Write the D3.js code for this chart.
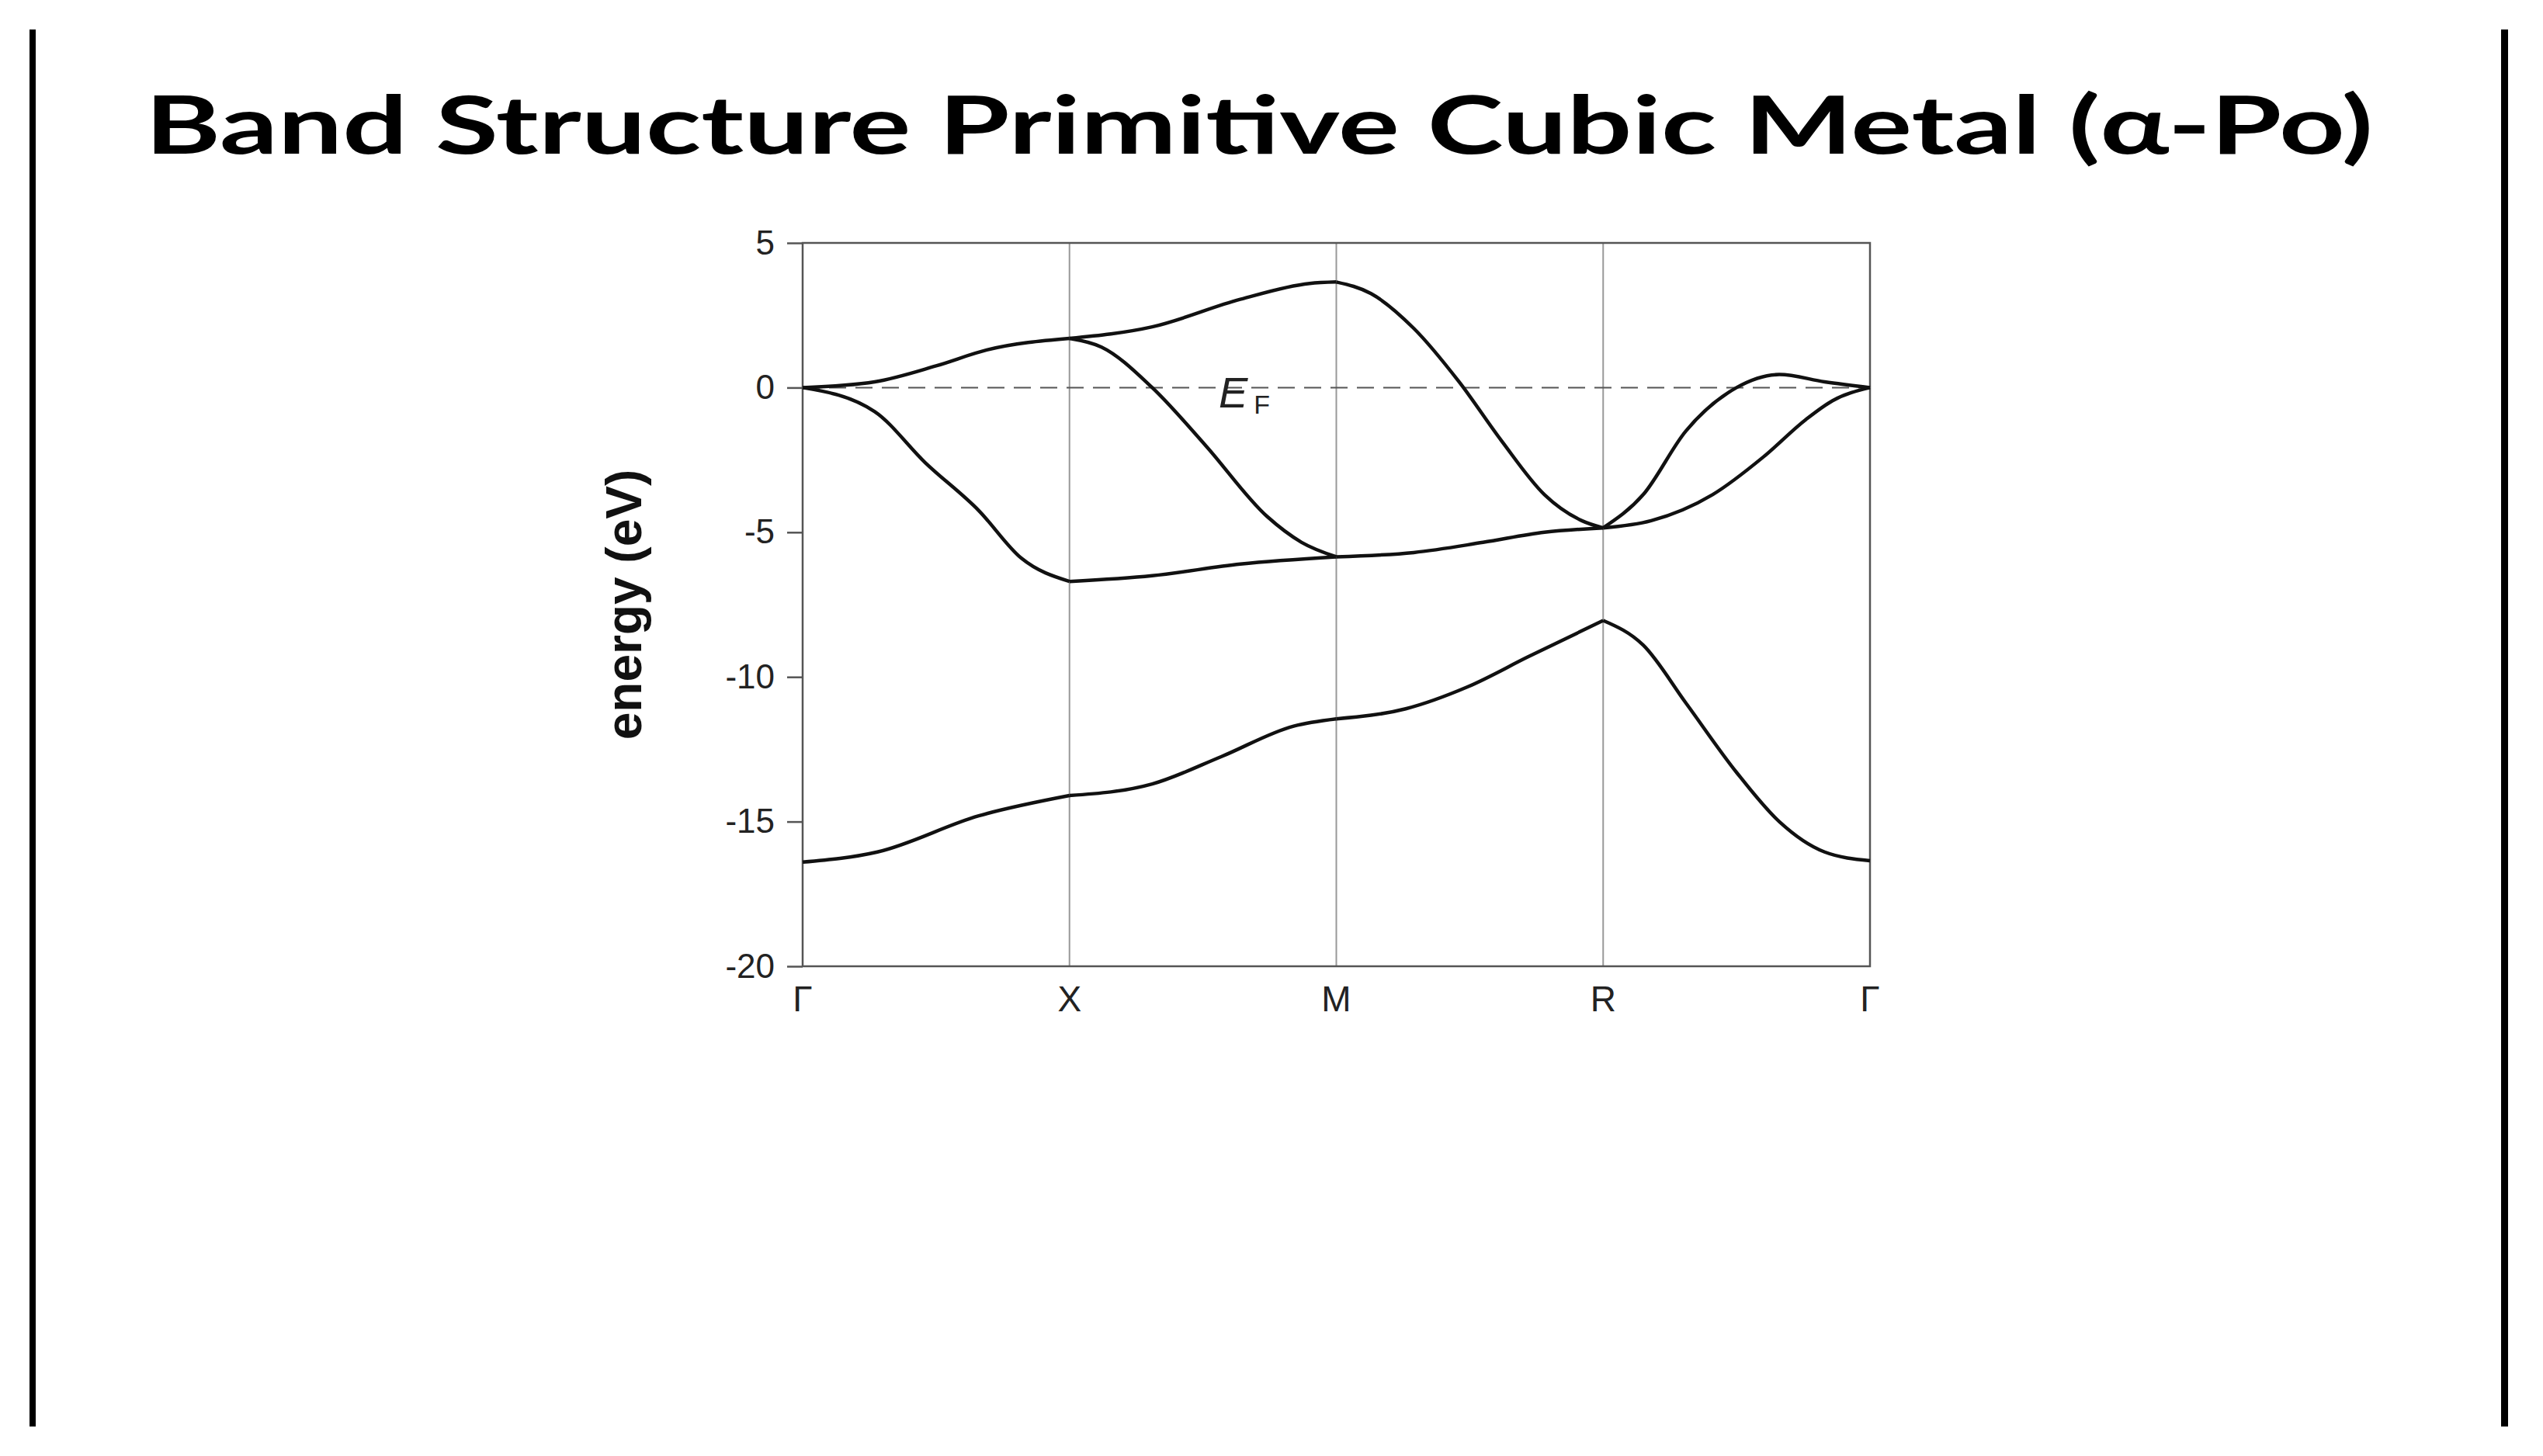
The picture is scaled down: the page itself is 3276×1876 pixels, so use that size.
<!doctype html>
<html>
<head>
<script src="https://cdnjs.cloudflare.com/ajax/libs/d3/7.8.5/d3.min.js"></script>
<style>
  body { margin: 0; background: #fff; }
</style>
</head>
<body>
<svg id="chart" width="3276" height="1876"></svg>
<script>
  var title = "Band Structure Primitive Cubic Metal (\u03b1-Po)";
  var kLabels = ["\u0393", "X", "M", "R", "\u0393"];
  var yTicks = [5, 0, -5, -10, -15, -20];

  // [k, energy] pairs, k runs 0..4 along Γ-X-M-R-Γ
  var band1 = [[0,-16.4],[0.28,-16.05],[0.66,-14.8],[1,-14.1],[1.31,-13.7],[1.57,-12.75],[1.84,-11.7],[2,-11.45],
    [2.26,-11.1],[2.49,-10.35],[2.72,-9.3],[3,-8.05],[3.15,-8.9],[3.31,-10.9],[3.5,-13.3],[3.66,-15.0],[3.83,-16.05],[4,-16.35]];
  var band2 = [[0,0],[0.27,-0.83],[0.46,-2.6],[0.66,-4.25],[0.82,-5.9],[1,-6.7],[1.31,-6.5],[1.64,-6.1],[2,-5.85],
    [2.29,-5.7],[2.55,-5.35],[2.78,-5.0],[3,-4.85],[3.18,-4.6],[3.41,-3.7],[3.6,-2.4],[3.76,-1.1],[3.86,-0.45],[4,0]];
  var band3 = [[0,0],[0.27,0.2],[0.5,0.75],[0.69,1.3],[1,1.7],[1.31,2.1],[1.64,3.05],[1.9,3.6],[2,3.65],[2.13,3.25],
    [2.29,2.05],[2.46,0.2],[2.62,-1.85],[2.78,-3.7],[2.92,-4.6],[3,-4.85],[3.15,-3.7],[3.31,-1.5],[3.5,0],[3.66,0.45],[3.83,0.2],[4,0]];
  var band4 = [[1,1.7],[1.12,1.4],[1.31,0],[1.51,-2.0],[1.74,-4.45],[1.87,-5.35],[2,-5.85]];
  var bands = [band1, band2, band3, band4];

  var svg = d3.select("#chart");
  var pLeft = 1034, pRight = 2409, pTop = 313, pBottom = 1245;

  var x = d3.scaleLinear().domain([0, 4]).range([pLeft, pRight]);
  var y = d3.scaleLinear().domain([-20, 5]).range([pBottom, pTop]);

  // side bars
  svg.append("rect").attr("x", 38).attr("y", 38).attr("width", 8).attr("height", 1800).attr("fill", "#000");
  svg.append("rect").attr("x", 3222).attr("y", 38).attr("width", 9).attr("height", 1800).attr("fill", "#000");

  svg.append("text")
    .attr("x", 1622).attr("y", 198)
    .attr("text-anchor", "middle")
    .attr("font-family", "Lato, 'Open Sans', sans-serif")
    .attr("font-weight", "bold")
    .attr("font-size", 104)
    .attr("textLength", 2870)
    .attr("lengthAdjust", "spacingAndGlyphs")
    .text(title);

  // gridlines at high-symmetry points
  svg.append("g").selectAll("line").data(d3.range(1, 4)).join("line")
    .attr("x1", d => x(d)).attr("x2", d => x(d))
    .attr("y1", pTop).attr("y2", pBottom)
    .attr("stroke", "#999").attr("stroke-width", 2);

  // frame
  svg.append("rect").attr("x", pLeft).attr("y", pTop).attr("width", pRight - pLeft).attr("height", pBottom - pTop)
    .attr("fill", "none").attr("stroke", "#555").attr("stroke-width", 2.5);

  var yAxis = svg.append("g")
    .attr("transform", "translate(" + pLeft + ",0)")
    .call(d3.axisLeft(y).tickValues(yTicks).tickSize(20).tickPadding(16));
  yAxis.select(".domain").remove();
  yAxis.selectAll("line").attr("stroke", "#555").attr("stroke-width", 2.5);
  yAxis.selectAll("text")
    .attr("font-family", "'Liberation Sans', Arial, sans-serif")
    .attr("font-size", 44).attr("fill", "#222")
    .text(d => d < 0 ? "-" + Math.abs(d) : d);

  svg.append("g").selectAll("text").data(kLabels).join("text")
    .attr("x", (d, i) => x(i)).attr("y", pBottom + 58)
    .attr("text-anchor", "middle")
    .attr("font-family", "'Liberation Sans', Arial, sans-serif")
    .attr("font-size", 46).attr("fill", "#222")
    .text(d => d);

  svg.append("text")
    .attr("transform", "translate(826," + y(-7.5) + ") rotate(-90)")
    .attr("text-anchor", "middle")
    .attr("font-family", "'Liberation Sans', Arial, sans-serif")
    .attr("font-weight", "bold")
    .attr("font-size", 64)
    .attr("fill", "#111")
    .text("energy (eV)");

  // Fermi level
  svg.append("line")
    .attr("x1", x(0)).attr("x2", x(4)).attr("y1", y(0)).attr("y2", y(0))
    .attr("stroke", "#555").attr("stroke-width", 2).attr("stroke-dasharray", "22,12");
  var ef = svg.append("text")
    .attr("x", 1570).attr("y", y(0) + 26)
    .attr("font-family", "'Liberation Sans', Arial, sans-serif")
    .attr("fill", "#222");
  ef.append("tspan").attr("font-style", "italic").attr("font-size", 56).text("E");
  ef.append("tspan").attr("font-size", 34).attr("dx", 8).attr("dy", 8).text("F");

  var line = d3.line().x(d => x(d[0])).y(d => y(d[1])).curve(d3.curveMonotoneX);

  // draw each band piecewise between high-symmetry points to keep kinks
  bands.forEach(function(b) {
    for (var s = 0; s < 4; s++) {
      var seg = b.filter(p => p[0] >= s && p[0] <= s + 1);
      if (seg.length < 2) continue;
      svg.append("path").attr("d", line(seg))
        .attr("fill", "none").attr("stroke", "#111").attr("stroke-width", 4.5);
    }
  });
</script>
</body>
</html>
